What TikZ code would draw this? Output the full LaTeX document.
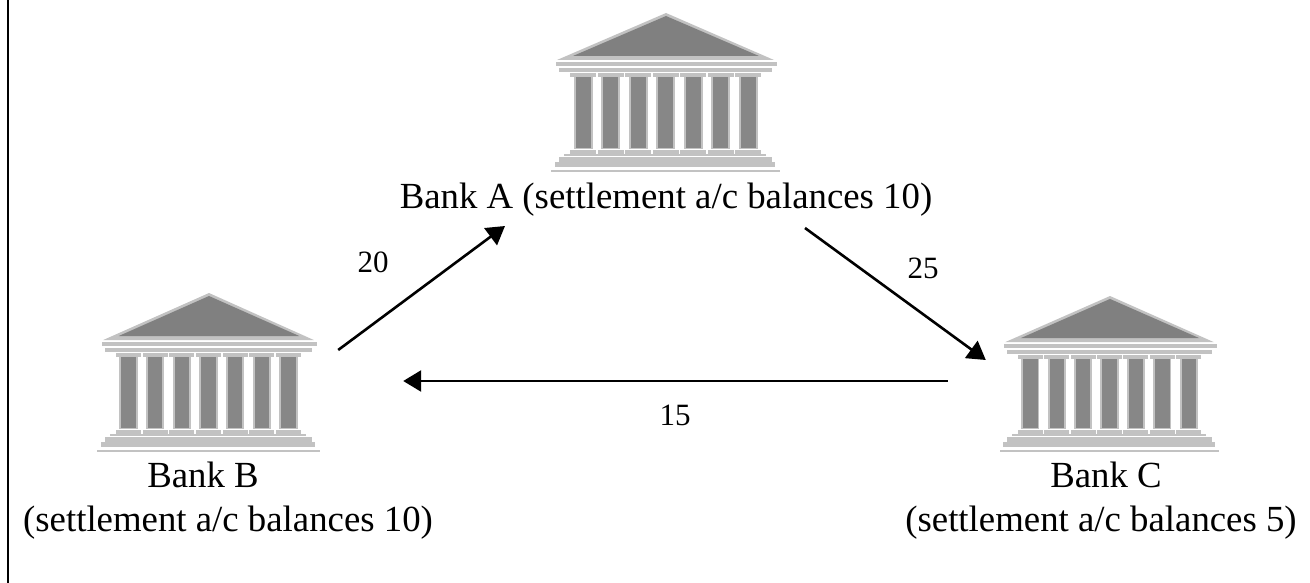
\documentclass[tikz,border=0pt]{standalone}
\usepackage{fontspec}
\setmainfont{Liberation Serif}
\usetikzlibrary{arrows.meta}
\definecolor{banklight}{gray}{0.76}
\definecolor{bankdark}{gray}{0.5}
\definecolor{bankshaft}{gray}{0.53}
\tikzset{
    banktext/.style={font=\fontsize{36.8}{45}\selectfont, anchor=base, inner sep=0pt},
    amount/.style={font=\fontsize{31}{34}\selectfont, inner sep=0pt},
    flow/.style={line width=2.6pt, -{Triangle[length=18pt,width=21pt]}},
    bankbox/.style={minimum width=258pt, minimum height=160pt, inner sep=0pt},
    bank/.pic={
        \fill[banklight] (-109,47) -- (0,0) -- (108,47) -- cycle;
        \fill[bankdark] (-93,43) -- (0,3) -- (93,43) -- cycle;
        \fill[banklight] (-110,49) rectangle (111,53);
        \fill[banklight] (-107,55) rectangle (106,59);
        \foreach \col in {-83,-55.5,-28,-0.5,27,54.5,82} {
            \fill[banklight] (\col-13,60) rectangle (\col+13,64);
            \fill[banklight] (\col-9.5,64) rectangle (\col+9.5,136);
            \fill[bankshaft] (\col-7.5,64) rectangle (\col+7.5,135);
            \fill[banklight] (\col-13,137) rectangle (\col+13,141);
        }
        \fill[banklight] (-102,141) rectangle (100,143);
        \fill[banklight] (-107,144) rectangle (106,149);
        \fill[banklight] (-111,149) rectangle (109,154);
        \fill[banklight] (-115,157) rectangle (114,159);
    }
}
\begin{document}
\begin{tikzpicture}[x=1pt,y=-1pt]
    \useasboundingbox (0,0) rectangle (1310,583);
    \fill[white] (0,0) rectangle (1310,583);
    % frame
    \draw[line width=2.4pt] (8,0) -- (8,583);
    % banks
    \pic at (666,13) {bank};
    \pic[xscale=0.97] at (209,293) {bank};
    \pic[xscale=0.96,yscale=0.98] at (1110,296) {bank};
    \node[bankbox] (bankB) at (209,372) {};
    \node[bankbox] (bankC) at (1110,374) {};
    % names
    \node[banktext] (labelA) at (666,208) {Bank A (settlement a/c balances 10)};
    \node[banktext] (labelB) at (203,487) {Bank B};
    \node[banktext] (balanceB) at (228,531) {(settlement a/c balances 10)};
    \node[banktext] (labelC) at (1106,487) {Bank C};
    \node[banktext] (balanceC) at (1101,531) {(settlement a/c balances 5)};
    % payments
    \draw[flow] ([yshift=22pt]bankB.east) -- ([xshift=-161pt,yshift=-18pt]labelA.base);
    \draw[flow] ([xshift=139pt,yshift=-20pt]labelA.base) -- ([xshift=5pt,yshift=14pt]bankC.west);
    \draw[flow] ([xshift=-33pt,yshift=-7pt]bankC.west) -- ([xshift=65pt,yshift=-9pt]bankB.east);
    \node[amount] (amountAB) at (373,262) {20};
    \node[amount] (amountAC) at (923,268) {25};
    \node[amount] (amountCB) at (675,415) {15};
\end{tikzpicture}
\end{document}
